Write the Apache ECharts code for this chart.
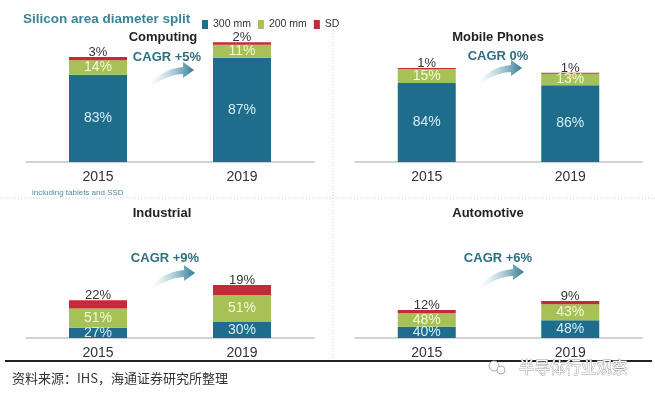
<!DOCTYPE html>
<html>
<head>
<meta charset="utf-8">
<script src="https://cdn.jsdelivr.net/npm/echarts@6/dist/echarts.min.js"></script>
<style>
    html, body { margin: 0; padding: 0; background: #fff; }
    #chart { width: 655px; height: 399px; }
</style>
</head>
<body>
<div id="chart"></div>
<script>
    // 年份
    var years = ['2015', '2019'];
    // 各应用的相对硅面积 (Computing 2015 = 100)
    var panelNames = ['Computing', 'Mobile Phones', 'Industrial', 'Automotive'];
    var cagrText = ['CAGR +5%', 'CAGR 0%', 'CAGR +9%', 'CAGR +6%'];
    var totals = [
        [100, 114],
        [89.5, 85],
        [36, 50.5],
        [26.7, 35.2]
    ];
    // 占比 (%)
    var share300 = [[83, 87], [84, 86], [27, 30], [40, 48]];
    var share200 = [[14, 11], [15, 13], [51, 51], [48, 43]];
    var shareSD = [[3, 2], [1, 1], [22, 19], [12, 9]];

    var theColors = ['#1f6d8c', '#a6c256', '#c42a3a'];
    var seriesNames = ['300 mm', '200 mm', 'SD'];

    var chart = echarts.init(document.getElementById('chart'));

    // 四个面板的网格位置
    var grids = [
        {left: 26, top: 15, width: 288, height: 147},
        {left: 355, top: 15, width: 287, height: 147},
        {left: 26, top: 191, width: 288, height: 147},
        {left: 355, top: 191, width: 287, height: 147}
    ];

    var xAxis = [], yAxis = [], series = [];
    grids.forEach(function (g, i) {
        xAxis.push({
            gridIndex: i,
            type: 'category',
            data: years,
            axisLine: {lineStyle: {color: '#c4c4c4', width: 1.5}},
            axisTick: {show: false},
            axisLabel: {color: '#333', fontSize: 14, margin: 8, fontFamily: 'Liberation Sans'}
        });
        yAxis.push({
            gridIndex: i,
            type: 'value',
            min: 0,
            max: 140,
            show: false,
            splitLine: {show: false}
        });
        var shareLists = [share300[i], share200[i], shareSD[i]];
        shareLists.forEach(function (sh, k) {
            var vals = sh.map(function (p, j) {
                return {value: totals[i][j] * p / 100, pct: p};
            });
            var lbl;
            if (k === 2) {
                lbl = {show: true, position: 'top', distance: -2, color: '#333', fontSize: 13,
                    fontFamily: 'Liberation Sans'};
            } else {
                lbl = {show: true, position: 'inside', fontSize: 14, fontFamily: 'Liberation Sans',
                    color: k === 0 ? '#d5ecf4' : '#f3f8d6'};
            }
            lbl.formatter = function (p) { return p.data.pct + '%'; };
            series.push({
                name: seriesNames[k],
                type: 'bar',
                xAxisIndex: i,
                yAxisIndex: i,
                stack: 'p' + i,
                barWidth: 58,
                itemStyle: {color: theColors[k]},
                label: lbl,
                data: vals
            });
        });
    });

    // 曲线箭头 (多边形近似)
    function quad(p0, c, p1, n) {
        var pts = [];
        for (var t = 0; t <= n; t++) {
            var s = t / n;
            pts.push([
                (1 - s) * (1 - s) * p0[0] + 2 * (1 - s) * s * c[0] + s * s * p1[0],
                (1 - s) * (1 - s) * p0[1] + 2 * (1 - s) * s * c[1] + s * s * p1[1]
            ]);
        }
        return pts;
    }
    var arrowPoints = quad([0, 26], [14, 6], [37, 4], 14)
        .concat([[37, -1], [48, 7], [37, 15]])
        .concat(quad([37, 11], [18, 12], [2, 27], 14));
    var arrowFill = new echarts.graphic.LinearGradient(0, 0, 1, 0, [
        {offset: 0, color: 'rgba(255,255,255,0)'}, {offset: 0.35, color: 'rgba(190,215,224,0.6)'},
        {offset: 1, color: '#2c7a93'}
    ]);
    var arrowPos = [[146, 63], [474, 61], [147, 266], [476, 265]];
    var titlePos = [[163, 37], [498, 37], [162, 213], [488, 213]];
    var cagrPos = [[167, 57], [498, 56], [165, 258], [498, 258]];

    var graphic = [
        {type: 'text', x: 23, y: 19, style: {text: 'Silicon area diameter split', fill: '#3b8497',
            font: 'bold 13.5px "Liberation Sans"', textVerticalAlign: 'middle'}},
        {type: 'text', x: 32, y: 193, style: {text: 'including tablets and SSD', fill: '#4a8fa3',
            font: '8px "Liberation Sans"', textVerticalAlign: 'middle'}},
        {type: 'line', shape: {x1: 0, y1: 198, x2: 655, y2: 198},
            style: {stroke: '#cfcfcf', lineWidth: 1, lineDash: [1, 2]}},
        {type: 'line', shape: {x1: 333, y1: 30, x2: 333, y2: 360},
            style: {stroke: '#cfcfcf', lineWidth: 1, lineDash: [1, 2]}},
        {type: 'line', shape: {x1: 5, y1: 361, x2: 652, y2: 361},
            style: {stroke: '#222', lineWidth: 2}},
        {type: 'text', x: 12, y: 378, style: {text: '资料来源：IHS，海通证券研究所整理', fill: '#333',
            font: '13px "Noto Sans CJK SC"', textVerticalAlign: 'middle'}},
        {type: 'text', x: 519, y: 367, style: {text: '半导体行业观察', fill: '#fff', stroke: '#9a9a9a',
            lineWidth: 0.8, font: '15.5px "Noto Sans CJK SC"', textVerticalAlign: 'middle'}},
        {type: 'circle', shape: {cx: 494, cy: 366, r: 5}, style: {fill: '#fff', stroke: '#aaa', lineWidth: 1}},
        {type: 'circle', shape: {cx: 501, cy: 370, r: 4}, style: {fill: '#fff', stroke: '#aaa', lineWidth: 1}}
    ];
    for (var i = 0; i < 4; i++) {
        graphic.push({type: 'text', x: titlePos[i][0], y: titlePos[i][1],
            style: {text: panelNames[i], fill: '#222', font: 'bold 13px "Liberation Sans"',
                textAlign: 'center', textVerticalAlign: 'middle'}});
        graphic.push({type: 'text', x: cagrPos[i][0], y: cagrPos[i][1],
            style: {text: cagrText[i], fill: '#2f6f82', font: 'bold 13px "Liberation Sans"',
                textAlign: 'center', textVerticalAlign: 'middle'}});
        graphic.push({type: 'polygon', x: arrowPos[i][0], y: arrowPos[i][1],
            shape: {points: arrowPoints}, style: {fill: arrowFill}});
    }

    var option = {
        animation: false,
        legend: {
            left: 197,
            top: 14,
            itemWidth: 6,
            itemHeight: 9,
            itemGap: 7,
            icon: 'rect',
            data: seriesNames,
            textStyle: {color: '#333', fontSize: 10.5, fontFamily: 'Liberation Sans'}
        },
        grid: grids,
        xAxis: xAxis,
        yAxis: yAxis,
        series: series,
        graphic: graphic
    };
    chart.setOption(option);
</script>
</body>
</html>
